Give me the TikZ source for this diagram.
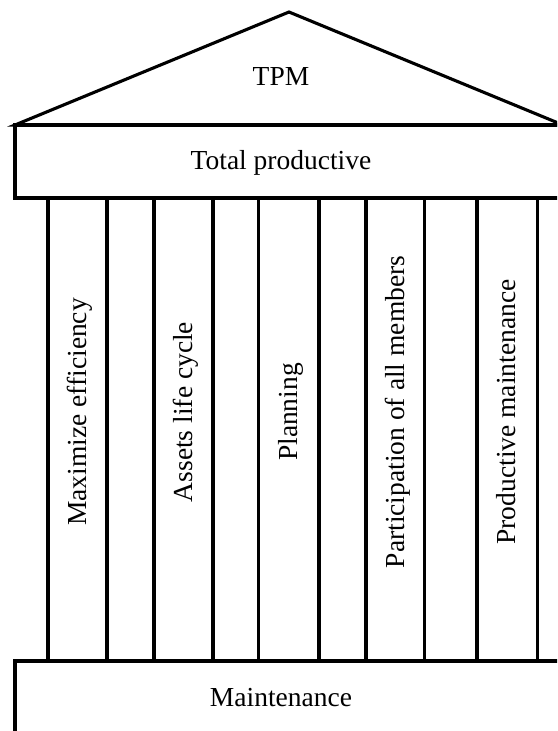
\documentclass[tikz,border=0pt]{standalone}
\usepackage{fontspec}
\setmainfont{Liberation Serif}
\begin{document}
\begin{tikzpicture}[x=1pt,y=-1pt, line width=3.1pt, line join=miter,
  lbl/.style={font=\fontsize{27.5}{30}\selectfont, inner sep=0pt, anchor=base},
  vlbl/.style={lbl, rotate=90}]
\useasboundingbox (0,0) rectangle (557,731);
\fill[white] (0,0) rectangle (557,731);
\begin{scope}
\clip (0,0) rectangle (557,731);
% roof
\draw (15,125) -- (289,12) -- (563,125) -- cycle;
% architrave
\draw (15,125) rectangle (563,198);
% columns
\foreach \x in {48,107,154,213,258.5,319,366,424.5,477,537.5}
  \draw (\x,198) -- (\x,661);
% base
\draw (15,661) rectangle (563,770);
\end{scope}
\node[lbl] (tpm) at (281,85) {TPM};
\node[lbl] (total) at (281,169) {Total productive};
\node[lbl] (maint) at (281,706) {Maintenance};
\node[vlbl] (p1) at (86.5,412) {Maximize efficiency};
\node[vlbl] (p2) at (192.5,412) {Assets life cycle};
\node[vlbl] (p3) at (297.5,412) {Planning};
\node[vlbl] (p4) at (404,412) {Participation of all members};
\node[vlbl] (p5) at (515,412) {Productive maintenance};
\end{tikzpicture}
\end{document}
